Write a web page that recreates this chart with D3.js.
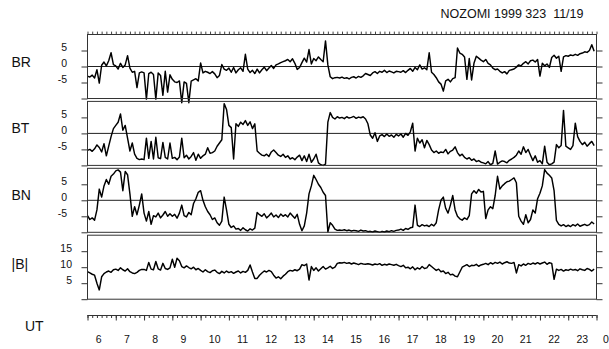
<!DOCTYPE html>
<html>
<head>
<meta charset="utf-8">
<script src="https://cdn.jsdelivr.net/npm/d3@7"></script>
<style>
    body { margin: 0; background: #fff; }
    svg { display: block; font-family: "Liberation Sans", Arial, sans-serif; }
</style>
</head>
<body>
<div id="chart"></div>
<script>
// chart data (5-minute samples from 06:00 UT, one row per hour)
const title = "NOZOMI 1999 323  11/19";
const startHour = 6;
const stepMinutes = 5;
const hourTicks = [6, 7, 8, 9, 10, 11, 12, 13, 14, 15, 16, 17, 18, 19, 20, 21, 22, 23, 24];
const hourLabels = ["6", "7", "8", "9", "10", "11", "12", "13", "14", "15", "16", "17", "18", "19", "20", "21", "22", "23", "0"];
const panelNames = ["BR", "BT", "BN", "|B|"];

const br = [
    -3.0, -3.3, -2.7, -3.6, -1.0, -5.2, 0.4, 1.4, 0.2, 1.8, 4.3, 0.6,
    0.2, -0.8, 1.0, -0.3, 0.5, 3.4, -0.5, -1.8, -1.5, -6.6, -2.0, -1.7,
    -2.0, -10.2, -2.2, -1.8, -2.5, -10.2, -2.0, -2.8, -9.0, -1.5, -8.0, -2.6,
    -4.0, -4.8, -5.0, -4.5, -11.3, -4.8, -5.3, -11.3, -4.6, -4.2, -3.8, -4.5,
    1.1, -2.0, -1.5, -1.8, -2.2, -1.6, -2.3, -3.5, -2.8, 0.6, -0.8, -1.2,
    -0.5, -1.8, -0.3, -2.0, -1.0, -0.4, -1.5, 3.8, -0.8, -1.9, -1.2, -2.2,
    -0.8, -2.0, -1.0, -0.2, -1.3, -0.5, 0.3, -0.6, 0.5, 0.8, 1.2, 1.5,
    1.8, 2.2, 1.5, 2.4, 1.0, -0.9, -0.3, 1.2, 2.6, 1.4, 5.3, 0.8,
    2.5, 1.8, 3.0, 2.2, 1.5, 8.0, 0.5, -3.2, -3.8, -3.5, -3.4, -3.6,
    -3.3, -3.7, -3.5, -3.9, -3.4, -3.2, -3.6, -3.1, -3.4, -2.9, -2.2, -2.5,
    -2.8, -2.0, -1.6, -2.2, -1.5, -1.8, -1.2, -1.9, -1.4, -1.7, -2.0, -1.5,
    -1.6, -1.8, -1.3, -1.9, -1.2, -0.6, -1.5, -0.3, -1.0, 0.5, -0.8, -0.4,
    -1.0, 4.3, -1.8, -2.5, -3.5, -4.8, -5.5, -7.7, -4.5, -4.0, -4.8, -3.8,
    -3.5, 5.8, 4.2, 3.8, 3.0, -4.0, 2.5, -4.2, 1.0, 3.2, 2.6, 2.0,
    1.5, 2.2, 1.0, 0.5, -0.5, -1.0, -0.8, -1.5, -2.0, -1.6, -2.3, -1.2,
    -1.0, -0.8, -0.2, 0.5, 0.2, 1.0, 1.5, 0.8, 1.8, 2.0, 1.4, 2.2,
    -3.0, 1.0, 0.2, 0.8, -0.3, 2.8, 3.5, 2.6, 3.2, -1.5, 3.0, 3.4,
    3.2, 3.6, 3.4, 3.8, 3.5, 4.0, 4.2, 4.6, 4.4, 5.0, 6.8, 4.8
];

const bt = [
    -5.3, -5.0, -5.6, -4.8, -3.6, -4.4, -5.8, -3.2, -7.0, -4.0, -1.0, 1.5,
    2.5, 3.5, 6.1, 1.0, 2.5, -1.5, -5.5, -3.0, -6.5, -7.8, -8.2, -8.0,
    -8.2, -1.5, -7.8, -2.5, -8.0, -1.2, -7.6, -7.9, -2.8, -7.5, -8.0, -3.0,
    -7.8, -7.5, -8.2, -7.4, -1.5, -7.6, -6.8, -8.0, -7.2, -6.0, -8.4, -6.5,
    -7.8, -7.0, -6.5, -4.5, -6.2, -6.0, -5.5, -4.0, -3.0, -2.0, 9.3, 7.5,
    2.5, 1.8, -8.0, 3.0, 2.2, 3.5, 2.8, 4.0, 2.5, 3.6, 1.5, 3.0,
    -5.5, -6.2, -6.8, -7.0, -6.5, -7.2, -5.8, -5.2, -6.0, -6.8, -7.2, -6.5,
    -7.5, -7.0, -8.0, -7.6, -8.2, -7.4, -6.8, -8.5, -7.0, -8.8, -6.5, -9.0,
    -8.0, -6.5, -9.2, -9.8, -10.0, -9.6, 3.5, 6.5, 5.0, 4.5, 5.2, 4.8,
    5.0, 4.6, 5.2, 4.8, 5.0, 5.3, 4.7, 5.1, 4.9, 5.2, 4.5, 3.0,
    -0.5, -1.5, 0.2, -2.5, -0.8, -0.4, -1.0, -0.2, -0.9, -0.5, -1.2, -0.3,
    -0.8, -0.2, -1.2, 0.0, -0.6, 0.5, 3.2, -5.5, -1.5, -3.0, -2.0, -4.5,
    -2.2, -3.5, -5.2, -6.0, -5.5, -6.2, -5.8, -6.0, -5.0, -6.4, -5.6, -5.2,
    -4.2, -6.0, -7.0, -6.5, -7.5, -8.0, -7.6, -8.4, -8.0, -8.8, -8.5, -9.0,
    -9.2, -9.5, -8.8, -9.8, -9.4, -5.5, -9.6, -9.0, -8.6, -8.8, -9.2, -8.4,
    -8.0, -7.5, -6.8, -5.5, -6.5, -4.2, -6.0, -5.0, -6.8, -8.5, -7.0, -9.0,
    -8.5, -9.5, -4.0, -9.0, -9.8, -9.5, -9.0, -3.5, -4.5, -3.8, 7.2, -4.0,
    -4.5, -5.0, -3.8, 3.2, -1.0, -2.5, -3.5, -2.8, -4.0, -3.2, -2.5, -3.8
];

const bn = [
    -4.8, -6.0, -5.5, -6.2, -3.0, 3.5, 1.0, 4.5, 6.5, 5.0, 7.5, 8.2,
    9.2, 9.5, 8.8, 3.0, 9.0, 8.0, 2.0, -5.0, -2.0, -4.5, -1.5, 2.0,
    -4.0, -6.5, -3.5, -7.5, -4.8, -5.2, -4.0, -5.5, -4.6, -3.5, -5.0, -4.2,
    -5.0, -4.4, -5.6, -4.0, -1.5, -4.8, -5.2, -3.8, -4.5, -1.0, 0.5, 2.5,
    3.0, 0.0, -2.0, -3.5, -4.5, -6.0, -5.5, -7.0, -7.8, -6.5, 1.0, -3.0,
    -7.5, -8.5, -8.0, -9.0, -8.8, -9.4, -8.6, -9.2, -9.6, -8.9, -9.3, -8.7,
    -3.8, -4.5, -5.0, -4.2, -5.5, -4.8, -4.0, -5.2, -4.6, -5.4, -4.3, -5.0,
    -4.5, -5.2, -4.0, -4.8, -5.6, -4.4, -7.5, -9.5, -8.0, -4.0, 2.0, 4.5,
    7.8, 6.5, 5.0, 4.0, 2.5, 1.5, -9.9, -7.0, -7.8, -9.0, -9.4, -9.3,
    -9.4, -9.2, -9.5, -9.3, -9.6, -9.4, -9.5, -9.7, -9.3, -9.6, -9.5, -9.8,
    -9.7, -9.9, -9.6, -9.8, -10.0, -9.7, -9.9, -9.6, -9.8, -9.5, -9.7, -9.4,
    -9.3, -9.0, -9.4, -8.8, -9.1, -8.6, -8.4, -1.5, -7.8, -8.2, -7.6, -8.0,
    -7.8, -8.2, -7.5, -8.0, -7.0, -3.0, 0.0, 1.0, -2.5, -4.0, -1.5, 1.5,
    -3.0, -5.0, -5.8, -6.2, -5.5, -6.0, -4.8, 2.0, 3.0, 2.2, 3.4, 2.6,
    2.8, -5.7, -3.0, -2.0, -2.6, 1.5, 7.5, 3.5, 4.5, 5.2, 5.8, 6.0,
    6.5, 7.0, 5.5, -5.0, -6.5, -7.5, -4.5, -7.0, -6.0, -3.0, -4.0, 0.5,
    2.2, 4.5, 9.6, 8.5, 7.8, 7.0, 3.0, -6.3, -7.5, -8.0, -7.6, -8.2,
    -7.8, -8.2, -7.6, -8.0, -7.4, -8.1, -7.8, -7.5, -7.9, -7.6, -6.8, -7.4
];

const bmag = [
    8.6, 8.2, 7.8, 7.5, 5.0, 2.9, 7.0, 8.0, 8.5, 8.8, 8.4, 9.2,
    9.4, 9.0, 9.8, 9.2, 8.8, 9.5, 8.6, 8.2, 8.0, 8.4, 9.0, 9.3,
    9.3, 9.0, 11.5, 9.4, 9.2, 11.8, 9.5, 9.1, 11.2, 9.6, 9.3, 9.8,
    12.5, 10.0, 12.8, 12.0, 10.2, 9.8, 10.4, 9.9, 9.5, 10.0, 9.2, 9.6,
    9.0, 8.5, 9.2, 8.6, 8.3, 8.9, 9.1, 8.4, 8.0, 8.7, 8.2, 8.8,
    8.3, 8.6, 8.1, 8.5, 8.8, 8.2, 8.7, 8.4, 9.0, 10.7, 8.5, 6.5,
    6.5, 7.5, 8.2, 8.8, 8.5, 9.0, 8.6, 7.5, 6.6, 7.0, 6.4, 7.2,
    7.8, 8.6, 9.0, 8.8, 9.2, 8.9, 9.4, 10.8, 10.5, 11.0, 6.0, 10.2,
    9.0, 9.8, 8.8, 9.5, 10.2, 9.4, 9.8, 10.3, 9.6, 10.0, 11.2, 11.4,
    11.3, 11.5, 11.2, 11.4, 11.0, 11.3, 11.1, 10.8, 11.2, 11.0, 10.9, 11.1,
    10.9, 10.7, 11.0, 10.8, 11.1, 10.6, 10.9, 10.7, 11.0, 10.8, 10.6, 10.9,
    10.5, 10.2, 10.6, 9.8, 10.0, 9.5, 10.1, 9.2, 9.8, 9.4, 10.2, 9.6,
    9.8, 10.8, 10.2, 9.6, 9.0, 9.4, 8.6, 8.8, 8.0, 8.4, 7.6, 7.8,
    7.2, 7.0, 8.5, 10.0, 10.4, 10.8, 10.2, 10.6, 10.5, 10.9, 10.3, 10.7,
    10.9, 11.2, 10.8, 11.4, 11.0, 11.5, 11.2, 11.6, 11.0, 11.4, 11.7, 11.3,
    11.2, 11.5, 8.2, 10.8, 10.4, 11.0, 10.6, 11.2, 10.9, 11.3, 11.0, 11.4,
    11.0, 11.3, 11.6, 10.9, 11.4, 11.2, 6.2, 9.4, 9.0, 9.3, 8.8, 9.2,
    9.0, 9.4, 9.1, 9.3, 8.9, 9.5, 9.2, 9.0, 9.6, 9.3, 8.8, 9.4
];

const panels = [
    { name: panelNames[0], values: br, domain: [-10, 10], ticks: [-10, -5, 0, 5], labels: [5, 0, -5], zero: true },
    { name: panelNames[1], values: bt, domain: [-10, 10], ticks: [-10, -5, 0, 5], labels: [5, 0, -5], zero: true },
    { name: panelNames[2], values: bn, domain: [-10, 10], ticks: [-10, -5, 0, 5], labels: [5, 0, -5], zero: true },
    { name: panelNames[3], values: bmag, domain: [0, 20], ticks: [0, 5, 10, 15], labels: [15, 10, 5], zero: false }
];

const width = 609;
const height = 349;
const left = 87.5, right = 596.5;
const panelTop = 34.5, panelHeight = 64, panelStep = 66.9;
const axisY = 315;
const ink = "#111";

const svg = d3.select("#chart")
    .append("svg")
    .attr("width", width)
    .attr("height", height)
    .attr("viewBox", `0 0 ${width} ${height}`);

const x = d3.scaleLinear()
    .domain([hourTicks[0], hourTicks[hourTicks.length - 1]])
    .range([left, right]);

const minorTicks = d3.range(0, (hourTicks.length - 1) * 6 + 1).map(i => hourTicks[0] + i / 6);

svg.append("text")
    .attr("x", 583.5)
    .attr("y", 18.3)
    .attr("text-anchor", "end")
    .attr("font-size", 12.5)
    .attr("fill", ink)
    .style("white-space", "pre")
    .text(title);

// dotted minute ticks above the first panel
svg.append("g")
    .attr("transform", `translate(0,${panelTop - 0.3})`)
    .call(d3.axisTop(x).tickValues(minorTicks).tickSize(2.6).tickFormat(""))
    .call(g => g.select(".domain").remove())
    .call(g => g.selectAll("line").attr("stroke", "#444"));

panels.forEach((p, i) => {
    const top = panelTop + i * panelStep;
    const y = d3.scaleLinear()
        .domain(p.domain)
        .range([top + panelHeight, top]);

    const line = d3.line()
        .x((d, j) => x(startHour + j * stepMinutes / 60))
        .y(d => y(d));

    const g = svg.append("g");

    // left axis with labels
    g.append("g")
        .attr("transform", `translate(${left},0)`)
        .call(d3.axisLeft(y).tickValues(p.ticks).tickSize(6)
            .tickPadding(p.zero ? 14.5 : 9.5)
            .tickFormat(t => p.labels.includes(t) ? t : ""))
        .call(a => a.select(".domain").remove())
        .call(a => a.selectAll("line").attr("stroke", "#333"))
        .call(a => a.selectAll("text")
            .attr("dy", "0.02em")
            .attr("font-size", 10.5)
            .attr("font-family", "Liberation Sans, Arial, sans-serif")
            .attr("fill", ink));

    // right ticks
    g.append("g")
        .attr("transform", `translate(${right},0)`)
        .call(d3.axisRight(y).tickValues(p.ticks).tickSize(6).tickFormat(""))
        .call(a => a.select(".domain").remove())
        .call(a => a.selectAll("line").attr("stroke", "#333"));

    if (p.zero) {
        g.append("line")
            .attr("x1", left)
            .attr("x2", right)
            .attr("y1", y(0))
            .attr("y2", y(0))
            .attr("stroke", "#222")
            .attr("stroke-width", 1);
    }

    g.append("path")
        .datum(p.values)
        .attr("fill", "none")
        .attr("stroke", "#000")
        .attr("stroke-width", 1.45)
        .attr("stroke-linejoin", "round")
        .attr("d", line);

    g.append("rect")
        .attr("x", left)
        .attr("y", top)
        .attr("width", right - left)
        .attr("height", panelHeight)
        .attr("fill", "none")
        .attr("stroke", "#333")
        .attr("stroke-width", 1);

    g.append("text")
        .attr("x", 11.5)
        .attr("y", p.zero ? y(0) : y(10) + 1.5)
        .attr("font-size", 14)
        .attr("fill", ink)
        .text(p.name);
});

// UT axis
svg.append("g")
    .attr("transform", `translate(0,${axisY})`)
    .call(d3.axisBottom(x).tickValues(minorTicks).tickSize(3).tickFormat(""))
    .call(g => g.select(".domain").attr("stroke", "#333").attr("d", `M${left},0.5H${right}`))
    .call(g => g.selectAll("line").attr("stroke", "#333"));

svg.append("g")
    .attr("transform", `translate(0,${axisY})`)
    .call(d3.axisBottom(x).tickValues(hourTicks).tickSize(5.5)
        .tickFormat((d, i) => hourLabels[i]))
    .call(g => g.select(".domain").remove())
    .call(g => g.selectAll("line").attr("stroke", "#333"))
    .call(g => g.selectAll("text")
        .attr("text-anchor", "start")
        .attr("x", (d, i) => i === hourTicks.length - 1 ? 6 : 7.7)
        .attr("y", 28)
        .attr("dy", 0)
        .attr("font-size", 10.5)
        .attr("font-family", "Liberation Sans, Arial, sans-serif")
        .attr("fill", ink));

svg.append("text")
    .attr("x", 25)
    .attr("y", 331)
    .attr("font-size", 14)
    .attr("fill", ink)
    .text("UT");
</script>
</body>
</html>
